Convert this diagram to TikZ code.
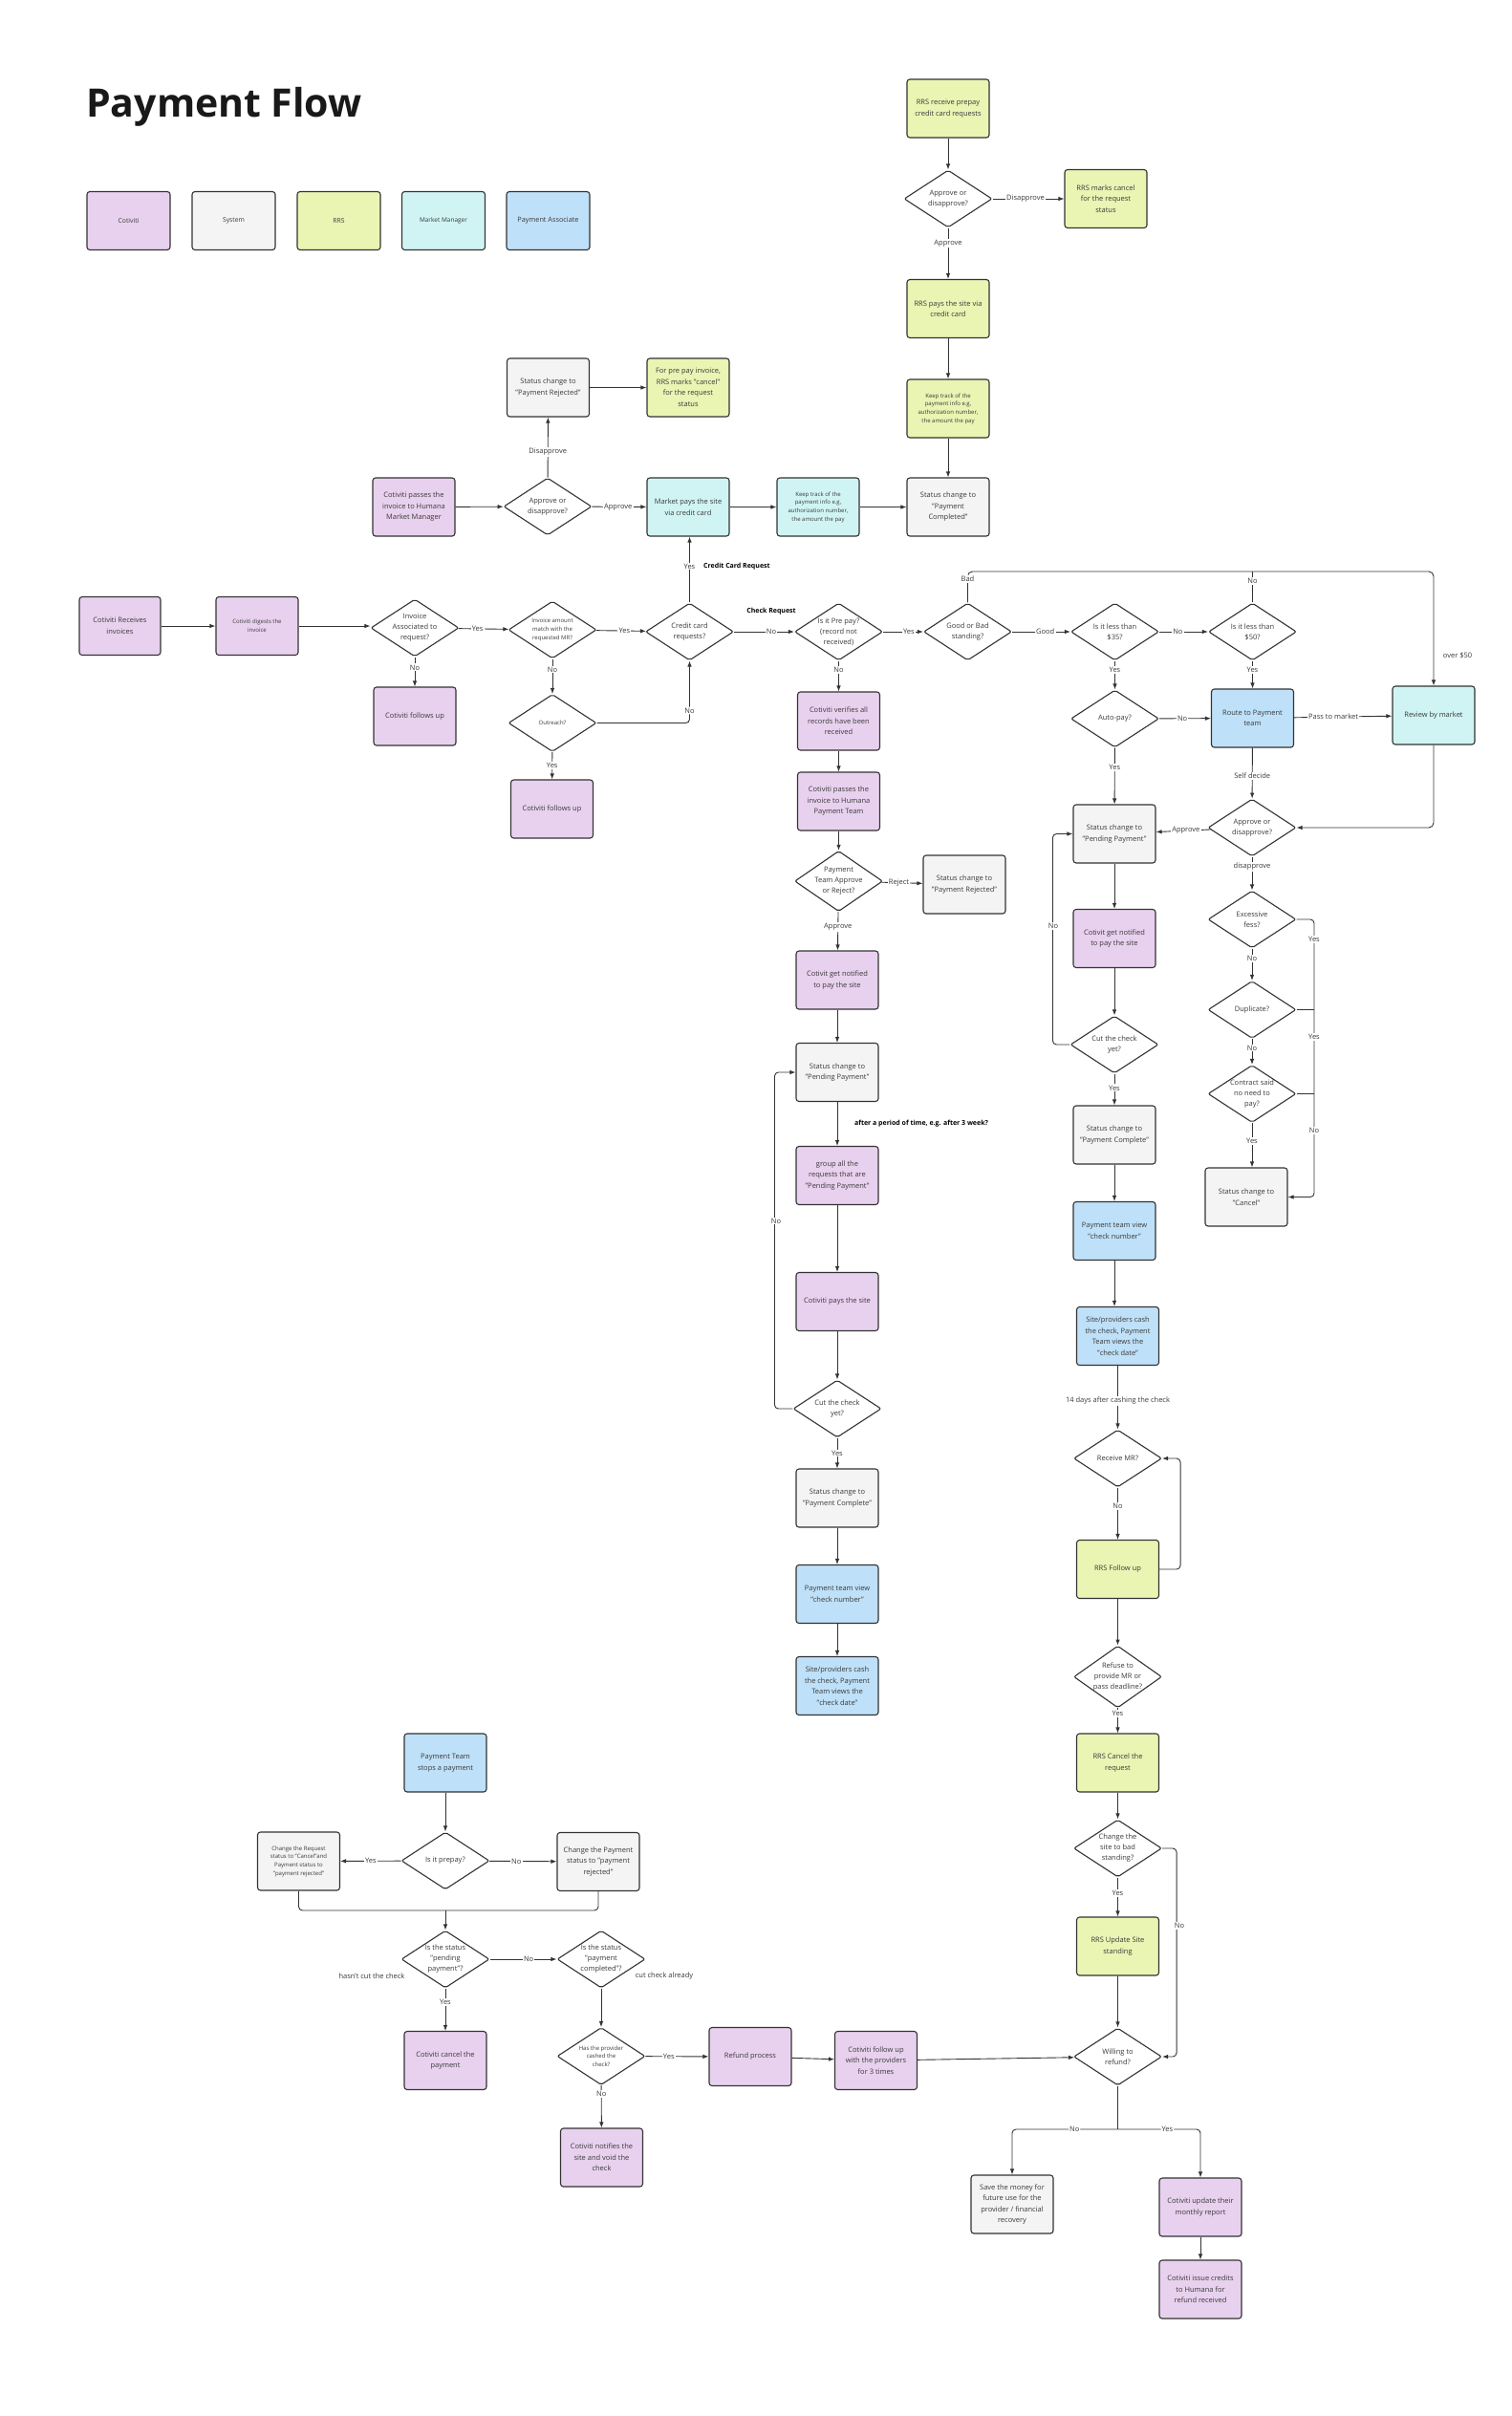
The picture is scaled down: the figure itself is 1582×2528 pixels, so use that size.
\documentclass[tikz,border=0pt]{standalone}
\usepackage{fontspec}
\setmainfont{Open Sans}
\usetikzlibrary{shapes.geometric,arrows.meta}
\definecolor{cpur}{HTML}{E8D1EE}
\definecolor{csys}{HTML}{F4F4F4}
\definecolor{crrs}{HTML}{EAF4B3}
\definecolor{cmm}{HTML}{D0F4F4}
\definecolor{cpa}{HTML}{BEE0F8}
\definecolor{linec}{HTML}{333333}
\definecolor{textc}{HTML}{3A3A3A}
\tikzset{
  base/.style={draw=linec, line width=1.1pt, rounded corners=3pt, minimum width=86pt, minimum height=61pt, align=center, text=textc, font=\fontsize{7.5}{11.5}\selectfont, inner sep=2pt},
  pur/.style={base, fill=cpur},
  sys/.style={base, fill=csys},
  rrs/.style={base, fill=crrs},
  mm/.style={base, fill=cmm},
  pa/.style={base, fill=cpa},
  dia/.style={diamond, draw=linec, line width=1.1pt, fill=white, rounded corners=2pt, minimum width=92pt, minimum height=60pt, inner sep=-4pt, align=center, text=textc, font=\fontsize{7.5}{11}\selectfont},
  small/.style={font=\fontsize{6}{8.7}\selectfont},
  arr/.style={draw=linec, line width=0.9pt, -{Latex[length=6pt,width=4.5pt]}},
  ln/.style={draw=linec, line width=0.9pt},
  lab/.style={fill=white, inner sep=1.2pt, font=\fontsize{7.5}{9}\selectfont, text=textc},
  note/.style={inner sep=1pt, font=\fontsize{7.5}{9}\selectfont, text=textc},
  bnote/.style={inner sep=1pt, font=\bfseries\fontsize{7}{9}\selectfont, text=black},
}
\begin{document}
\begin{tikzpicture}[x=1pt, y=-1pt]
\useasboundingbox[fill=white] (0,0) rectangle (1582,2528);

% Title and legend
\node[anchor=west, inner sep=0, text=black!90, font=\bfseries\fontsize{41}{48}\selectfont] (title) at (90,112) {Payment Flow};
\node[pur, minimum width=87pt, font=\fontsize{6.8}{9}\selectfont] (L1) at (134.5,231) {Cotiviti};
\node[sys, minimum width=87pt, font=\fontsize{6.8}{9}\selectfont] (L2) at (244.5,231) {System};
\node[rrs, minimum width=87pt, font=\fontsize{6.8}{9}\selectfont] (L3) at (354.5,231) {RRS};
\node[mm,  minimum width=87pt, font=\fontsize{6.5}{9}\selectfont] (L4) at (464,231) {Market Manager};
\node[pa,  minimum width=87pt, font=\fontsize{7.3}{9}\selectfont] (L5) at (573.5,231) {Payment Associate};

% RRS prepay column
\node[rrs] (r1) at (992,113.5) {RRS receive prepay\\credit card requests};
\node[dia] (rd) at (992,208) {Approve or\\disapprove?};
\node[rrs] (rc) at (1157,208) {RRS marks cancel\\for the request\\status};
\node[rrs] (r2) at (992,323) {RRS pays the site via\\credit card};
\node[rrs, small] (r3) at (992,427.5) {Keep track of the\\payment info e.g,\\authorization number,\\the amount the pay};
\node[sys] (r4) at (992,530.5) {Status change to\\"Payment\\Completed"};

% Market manager row
\node[pur] (m1) at (433,530.5) {Cotiviti passes the\\invoice to Humana\\Market Manager};
\node[dia] (md) at (573,530) {Approve or\\disapprove?};
\node[mm] (m2) at (720,530.5) {Market pays the site\\via credit card};
\node[mm, small] (m3) at (856,530.5) {Keep track of the\\payment info e.g,\\authorization number,\\the amount the pay};
\node[sys] (mr) at (573.5,405.5) {Status change to\\"Payment Rejected"};
\node[rrs] (mp) at (720,405.5) {For pre pay invoice,\\RRS marks "cancel"\\for the request\\status};

% main row
\node[pur, minimum width=85pt] (a1) at (125.5,655) {Cotiviti Receives\\invoices};
\node[pur, small] (a2) at (269,655) {Cotiviti digests the\\invoice};
\node[dia] (d1) at (434,657) {Invoice\\Associated to\\request?};
\node[pur] (f1) at (434,749.5) {Cotiviti follows up};
\node[dia, small] (d2) at (578,659) {Invoice amount\\match with the\\requested MR?};
\node[dia, small] (d3) at (578,756.5) {Outreach?};
\node[pur] (f2) at (577.5,846.5) {Cotiviti follows up};
\node[dia] (d4) at (721.5,661) {Credit card\\requests?};

% check request row
\node[dia] (p1) at (877.5,661) {Is it Pre pay?\\(record not\\received)};
\node[dia] (g1) at (1012.5,661) {Good or Bad\\standing?};
\node[dia] (g2) at (1166.5,661) {Is it less than\\\$35?};
\node[dia] (g3) at (1310.5,661) {Is it less than\\\$50?};
\node[mm] (rv) at (1500,748.5) {Review by market};
\node[pa] (rp) at (1310.5,751.5) {Route to Payment\\team};
\node[dia] (ap) at (1166.5,752) {Auto-pay?};

% right approval column
\node[dia] (rd2) at (1310,866) {Approve or\\disapprove?};
\node[dia] (ex) at (1310,962) {Excessive\\fess?};
\node[dia] (du) at (1310,1056.5) {Duplicate?};
\node[dia] (ct) at (1310,1144.5) {Contract said\\no need to\\pay?};
\node[sys] (cc) at (1304,1252.5) {Status change to\\"Cancel"};

% right payment column
\node[sys] (ps) at (1166,872.5) {Status change to\\"Pending Payment"};
\node[pur] (pn) at (1166,982) {Cotivit get notified\\to pay the site};
\node[dia] (pd) at (1166,1093) {Cut the check\\yet?};
\node[sys] (pc) at (1166,1187.5) {Status change to\\"Payment Complete"};
\node[pa] (pv) at (1166,1288) {Payment team view\\"check number"};
\node[pa] (ph) at (1169.5,1398) {Site/providers cash\\the check, Payment\\Team views the\\"check date"};
\node[dia] (rm) at (1169.5,1526) {Receive MR?};
\node[rrs] (rf) at (1169.5,1642) {RRS Follow up};
\node[dia] (rr) at (1169.5,1754.5) {Refuse to\\provide MR or\\pass deadline?};
\node[rrs] (rcx) at (1169.5,1844.5) {RRS Cancel the\\request};
\node[dia] (cb) at (1169.5,1934) {Change the\\site to bad\\standing?};
\node[rrs] (ru) at (1169.5,2036.5) {RRS Update Site\\standing};
\node[dia] (wr) at (1169.5,2152) {Willing to\\refund?};
\node[sys] (sm) at (1059,2306.5) {Save the money for\\future use for the\\provider / financial\\recovery};
\node[pur] (cu) at (1256,2309.5) {Cotiviti update their\\monthly report};
\node[pur] (ci) at (1256,2395.5) {Cotiviti issue credits\\to Humana for\\refund received};

% middle column
\node[pur] (v1) at (877.5,754.5) {Cotiviti verifies all\\records have been\\received};
\node[pur] (v2) at (877.5,838.5) {Cotiviti passes the\\invoice to Humana\\Payment Team};
\node[dia] (vd) at (877.5,922) {Payment\\Team Approve\\or Reject?};
\node[sys] (vr) at (1009,925.5) {Status change to\\"Payment Rejected"};
\node[pur] (v3) at (876,1025.5) {Cotivit get notified\\to pay the site};
\node[sys] (v4) at (876,1122) {Status change to\\"Pending Payment"};
\node[pur] (v5) at (876,1230) {group all the\\requests that are\\"Pending Payment"};
\node[pur] (v6) at (876,1362) {Cotiviti pays the site};
\node[dia] (vd2) at (876,1474) {Cut the check\\yet?};
\node[sys] (v7) at (876,1567.5) {Status change to\\"Payment Complete"};
\node[pa] (v8) at (876,1668) {Payment team view\\"check number"};
\node[pa] (v9) at (876,1764) {Site/providers cash\\the check, Payment\\Team views the\\"check date"};

% bottom-left stop payment flow
\node[pa] (s1) at (466,1844.5) {Payment Team\\stops a payment};
\node[dia] (sd) at (466,1947) {Is it prepay?};
\node[sys, small] (sl) at (312.5,1947.5) {Change the Request\\status to "Cancel"and\\Payment status to\\"payment rejected"};
\node[sys] (sr) at (626,1948) {Change the Payment\\status to "payment\\rejected"};
\node[dia] (sp) at (466,2050) {Is the status\\"pending\\payment"?};
\node[dia] (sc) at (629,2050) {Is the status\\"payment\\completed"?};
\node[pur] (sx) at (466,2156) {Cotiviti cancel the\\payment};
\node[dia, small] (sh) at (629,2151.5) {Has the provider\\cashed the\\check?};
\node[pur] (sv) at (629.5,2257.5) {Cotiviti notifies the\\site and void the\\check};
\node[pur] (sf) at (785,2152) {Refund process};
\node[pur] (sg) at (916.5,2156) {Cotiviti follow up\\with the providers\\for 3 times};

% free notes
\node[bnote, anchor=west] (n1) at (735,593) {Credit Card Request};
\node[bnote] (n2) at (807,640) {Check Request};
\node[bnote] (n3) at (964,1176) {after a period of time, e.g. after 3 week?};
\node[note] (n4) at (1525,686) {over \$50};
\node[note] (n5) at (389,2068) {hasn't cut the check};
\node[note] (n6) at (695,2068) {cut check already};

\coordinate (topy) at (0,598);
\coordinate (exx) at (1375,0);
\coordinate (wj) at (1169.5,2228);
\coordinate (sj) at (466,1999);

% ---- connectors ----
% RRS column
\draw[arr] (r1) -- (rd);
\draw[arr] (rd) -- node[lab,pos=0.46]{Disapprove} (rc);
\draw[arr] (rd) -- node[lab,pos=0.3]{Approve} (r2);
\draw[arr] (r2) -- (r3);
\draw[arr] (r3) -- (r4);
% market manager row
\draw[arr] (m1) -- (md);
\draw[arr] (md) -- node[lab,pos=0.48]{Approve} (m2);
\draw[arr] (m2) -- (m3);
\draw[arr] (m3) -- (r4);
\draw[arr] (md) -- node[lab,pos=0.42]{Disapprove} (mr);
\draw[arr] (mr) -- (mp);
% main row
\draw[arr] (a1) -- (a2);
\draw[arr] (a2) -- (a2 -| d1.west);
\draw[arr] (d1) -- node[lab,pos=0.38]{Yes} (d2);
\draw[arr] (d2) -- node[lab,pos=0.57]{Yes} (d4);
\draw[arr] (d1) -- node[lab,pos=0.35]{No} (f1);
\draw[arr] (d2) -- node[lab,pos=0.3]{No} (d3);
\draw[arr] (d3) -- node[lab,pos=0.5]{Yes} (f2);
\draw[arr, rounded corners=4pt] (d3.east) -- (d4.south |- d3.east) -- node[lab,pos=0.2]{No} (d4.south);
\draw[arr] (d4) -- node[lab,pos=0.55]{Yes} (d4.north |- m2.south);
% check request row
\draw[arr] (d4) -- node[lab,pos=0.62]{No} (p1);
\draw[arr] (p1) -- node[lab,pos=0.64]{Yes} (g1);
\draw[arr] (g1) -- node[lab,pos=0.57]{Good} (g2);
\draw[arr] (g2) -- node[lab,pos=0.38]{No} (g3);
\draw[arr, rounded corners=5pt] (g1.north) -- node[lab,pos=0.76]{Bad} (g1.north |- topy) -- (rv.north |- topy) -- (rv.north);
\draw[ln] (g3.north) -- node[lab,pos=0.7]{No} (g3.north |- topy);
\draw[arr] (g2) -- node[lab,pos=0.32]{Yes} (ap);
\draw[arr] (g3) -- node[lab,pos=0.33]{Yes} (rp);
\draw[arr] (ap) -- node[lab,pos=0.45]{No} (rp);
\draw[arr] (rp) -- node[lab,pos=0.4]{Pass to market} (rv);
\draw[arr] (ap) -- node[lab,pos=0.35]{Yes} (ps);
% right approval column
\draw[arr] (rp) -- node[lab,pos=0.55]{Self decide} (rd2);
\draw[arr, rounded corners=5pt] (rv.south) |- (rd2.east);
\draw[arr] (rd2) -- node[lab,pos=0.45]{Approve} (ps);
\draw[arr] (rd2) -- node[lab,pos=0.3]{disapprove} (ex);
\draw[arr] (ex) -- node[lab,pos=0.3]{No} (du);
\draw[arr] (du) -- node[lab,pos=0.35]{No} (ct);
\draw[arr] (ct) -- node[lab,pos=0.4]{Yes} (ct.south |- cc.north);
\draw[arr, rounded corners=4pt] (ex.east) -- (exx |- ex.east) |- (cc.east);
\draw[ln] (du.east) -- (exx |- du.east);
\draw[ln] (ct.east) -- (exx |- ct.east);
\node[lab] (ly1) at (1375,983) {Yes};
\node[lab] (ly2) at (1375,1085) {Yes};
\node[lab] (ln1) at (1375,1183) {No};
% right payment column
\draw[arr] (ps) -- (pn);
\draw[arr] (pn) -- (pd);
\draw[arr] (pd) -- node[lab,pos=0.45]{Yes} (pc);
\draw[arr, rounded corners=4pt] (pd.west) -- ++(-18,0) |- (ps.west);
\node[lab] (ln2) at (1102,969) {No};
\draw[arr] (pc) -- (pv);
\draw[arr] (pv.south) -- (pv.south |- ph.north);
\draw[arr] (ph) -- node[lab,pos=0.55]{14 days after cashing the check} (rm);
\draw[arr] (rm) -- node[lab,pos=0.36]{No} (rf);
\draw[arr, rounded corners=4pt] (rf.east) -- ++(22,0) |- (rm.east);
\draw[arr] (rf) -- (rr);
\draw[arr] (rr) -- node[lab,pos=0.2]{Yes} (rcx);
\draw[arr] (rcx) -- (cb);
\draw[arr] (cb) -- node[lab,pos=0.4]{Yes} (ru);
\draw[arr, rounded corners=4pt] (cb.east) -- ++(15,0) |- (wr.east);
\node[lab] (ln3) at (1234,2015) {No};
\draw[arr] (ru) -- (wr);
\draw[ln] (wr.south) -- (wj);
\draw[arr, rounded corners=4pt] (wj) -- node[lab,pos=0.41]{No} (sm.north |- wj) -- (sm.north);
\draw[arr, rounded corners=4pt] (wj) -- node[lab,pos=0.6]{Yes} (cu.north |- wj) -- (cu.north);
\draw[arr] (cu) -- (ci);
% middle column
\draw[arr] (p1) -- node[lab,pos=0.3]{No} (v1);
\draw[arr] (v1) -- (v2);
\draw[arr] (v2) -- (vd);
\draw[arr] (vd) -- node[lab,pos=0.42]{Reject} (vr);
\draw[arr] (vd) -- node[lab,pos=0.4]{Approve} (v3);
\draw[arr] (v3) -- (v4);
\draw[arr] (v4) -- (v5);
\draw[arr] (v5) -- (v6);
\draw[arr] (v6) -- (vd2);
\draw[arr] (vd2) -- node[lab,pos=0.5]{Yes} (v7);
\draw[arr, rounded corners=4pt] (vd2.west) -- ++(-19,0) |- (v4.west);
\node[lab] (ln4) at (812,1277.5) {No};
\draw[arr] (v7) -- (v8);
\draw[arr] (v8) -- (v9);
% bottom-left
\draw[arr] (s1) -- (sd);
\draw[arr] (sd) -- node[lab,pos=0.5]{Yes} (sl);
\draw[arr] (sd) -- node[lab,pos=0.4]{No} (sr);
\draw[ln, rounded corners=4pt] (sl.south) |- (sj);
\draw[ln, rounded corners=4pt] (sr.south) |- (sj);
\draw[arr] (sj) -- (sp);
\draw[arr] (sp) -- node[lab,pos=0.58]{No} (sc);
\draw[arr] (sp) -- node[lab,pos=0.33]{Yes} (sx);
\draw[arr] (sc) -- (sh);
\draw[arr] (sh) -- node[lab,pos=0.37]{Yes} (sf);
\draw[arr] (sh) -- node[lab,pos=0.2]{No} (sv);
\draw[arr] (sf) -- (sg);
\draw[arr] (sg) -- (wr);
\end{tikzpicture}
\end{document}
